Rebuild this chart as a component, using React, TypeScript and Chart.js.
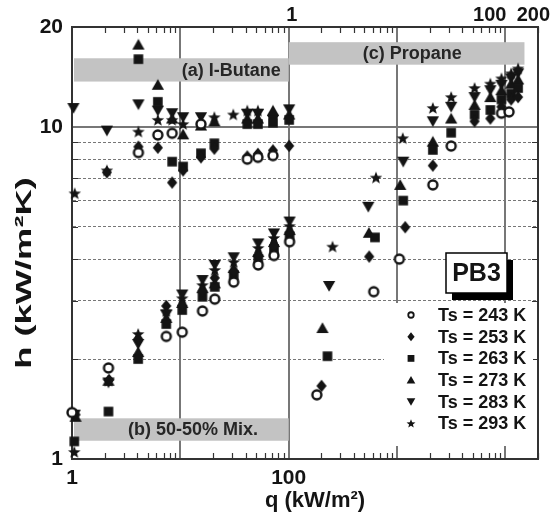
import React, { useEffect, useRef } from 'react';
import { Chart, registerables } from 'chart.js';

Chart.register(...registerables);

const FONT = "'Liberation Sans', Arial, Helvetica, sans-serif";
const INK = '#141414';

type Pt = [number, number];

// ---- series definitions ----
const seriesLabels = ['Ts = 243 K', 'Ts = 253 K', 'Ts = 263 K', 'Ts = 273 K', 'Ts = 283 K', 'Ts = 293 K'];
const seriesShapes = ['circle', 'diamond', 'square', 'triangle', 'triangleDown', 'star'];

// ---- (a) I-Butane : q (kW/m2) on bottom axis, h (kW/m2K) ----
const butane243: Pt[] = [[4.1, 8.37], [6.2, 9.46], [8.4, 9.57], [15.5, 10.2], [41.5, 8.0], [52, 8.1], [71.6, 8.2]];
const butane253: Pt[] = [[2.1, 7.3], [4.1, 8.72], [6.2, 8.66], [8.4, 6.8], [10.6, 7.4], [15.5, 8.1], [20.6, 8.6], [41.5, 8.15], [52, 8.3], [71.6, 8.5], [101, 8.77]];
const butane263: Pt[] = [[4.1, 16.0], [6.2, 11.9], [8.4, 7.86], [10.6, 7.6], [15.5, 8.33], [20.6, 8.93], [41.5, 10.2], [52, 10.2], [71.6, 10.3], [101, 10.5]];
const butane273: Pt[] = [[4.1, 17.7], [6.2, 13.4], [8.4, 10.6], [10.6, 9.5], [15.5, 10.1], [20.6, 10.4], [41.5, 10.6], [52, 10.6], [71.6, 11.2], [101, 10.9]];
const butane283: Pt[] = [[1.03, 11.4], [2.1, 9.75], [4.1, 11.7], [6.2, 11.2], [8.4, 11.0], [10.6, 10.7], [15.5, 10.7], [41.5, 10.95], [52, 10.95], [71.6, 10.5], [101, 11.3]];
const butane293: Pt[] = [[1.06, 6.31], [2.1, 7.4], [4.1, 9.68], [6.2, 10.5], [8.4, 10.5], [10.6, 10.2], [20.6, 10.7], [30.8, 10.9], [41.5, 11.2], [52, 11.2]];

// ---- (b) 50-50% Mix : q on bottom axis ----
const mix243: Pt[] = [[1.0, 1.38], [2.17, 1.88], [7.42, 2.34], [10.4, 2.41], [16, 2.79], [20.8, 3.03], [31.1, 3.41], [52.3, 3.84], [73.1, 4.1], [102, 4.51]];
const mix253: Pt[] = [[1.08, 1.36], [2.2, 1.73], [4.08, 2.3], [7.42, 2.89], [10.4, 2.9], [16, 3.2], [20.8, 3.51], [31.1, 3.66], [52.3, 4.08], [73.1, 4.38], [102, 4.79]];
const mix263: Pt[] = [[1.05, 1.13], [2.17, 1.39], [4.08, 2.0], [7.42, 2.55], [10.4, 2.81], [16, 3.08], [20.8, 3.3], [31.1, 3.58], [52.3, 4.0], [73.1, 4.29], [102, 4.69]];
const mix273: Pt[] = [[1.08, 1.34], [2.17, 1.72], [4.08, 2.1], [7.42, 2.66], [10.4, 2.95], [16, 3.27], [20.8, 3.38], [31.1, 3.76], [52.3, 4.2], [73.1, 4.5], [102, 4.89]];
const mix283: Pt[] = [[1.06, 1.36], [2.17, 1.7], [4.08, 2.22], [7.42, 2.72], [10.4, 3.13], [16, 3.46], [20.8, 3.84], [31.1, 4.05], [52.3, 4.46], [73.1, 4.78], [102, 5.19]];
const mix293: Pt[] = [[1.05, 1.05], [2.17, 1.72], [4.08, 2.38], [7.42, 2.79], [10.4, 3.05], [16, 3.34], [20.8, 3.71], [31.1, 3.92], [52.3, 4.32], [73.1, 4.63], [102, 5.03]];

// ---- (c) Propane : q on top axis ----
const propane243: Pt[] = [[1.82, 1.56], [6.09, 3.19], [10.5, 4.0], [21.4, 6.69], [31.6, 8.76], [92, 11.0], [108, 11.1]];
const propane253: Pt[] = [[2.01, 1.66], [5.54, 4.07], [11.9, 4.99], [21.4, 7.65], [52, 10.4], [72.6, 10.6], [92, 11.5], [113, 12.1], [131, 12.3]];
const propane263: Pt[] = [[2.28, 2.04], [6.26, 4.65], [11.4, 6.0], [21.4, 8.53], [31.6, 9.61], [52, 10.9], [72.6, 11.25], [92, 12.1], [113, 12.6], [131, 13.1]];
const propane273: Pt[] = [[2.05, 2.48], [5.5, 4.8], [10.7, 6.69], [21.4, 9.03], [31.6, 10.6], [52, 11.65], [72.6, 12.3], [92, 12.9], [113, 13.5], [131, 13.9]];
const propane283: Pt[] = [[2.36, 3.32], [5.43, 5.75], [11.4, 7.86], [21.4, 10.4], [31.6, 11.5], [52, 12.3], [72.6, 12.9], [92, 13.4], [113, 14.0], [131, 14.5]];
const propane293: Pt[] = [[2.54, 4.36], [6.39, 7.04], [11.3, 9.25], [21.4, 11.4], [31.6, 12.3], [52, 13.1], [72.6, 13.5], [92, 14.0], [113, 14.5], [131, 15.0]];

const butaneSeries = [butane243, butane253, butane263, butane273, butane283, butane293];
const mixSeries = [mix243, mix253, mix263, mix273, mix283, mix293];
const propaneSeries = [propane243, propane253, propane263, propane273, propane283, propane293];

// ---- axes ----
const bottomTicks = [1, 10, 100, 1000, 10000];
const bottomLabels = [1, 100];
const topLabels = ['1', '100', '200'];
const topLabelValues = [1, 100, 200];
const yTicks = [1, 2, 3, 4, 5, 6, 7, 8, 9, 10, 20];
const yLabels = [1, 10, 20];

// ---- grey label bands ----
const bandLabels = ['(a) I-Butane', '(c) Propane', '(b) 50-50% Mix.'];
const bandAxes = ['x', 'x2', 'x'];
const bandQ: Pt[] = [[1, 100], [1, 150], [1, 100]];
const bandH: Pt[] = [[13.7, 16.1], [15.4, 18.0], [1.135, 1.326]];
const bandTextQ = [29.5, 13.8, 13.1];

const near = (a: number, b: number) => Math.abs(a - b) < 1e-6 * Math.max(1, Math.abs(b));

function drawMarker(ctx: CanvasRenderingContext2D, shape: string, x: number, y: number, s: number) {
  const r = s / 2;
  ctx.save();
  ctx.fillStyle = INK;
  ctx.strokeStyle = INK;
  ctx.beginPath();
  switch (shape) {
    case 'circle':
      ctx.arc(x, y, r - 1.5, 0, Math.PI * 2);
      ctx.fillStyle = '#fff';
      ctx.fill();
      ctx.lineWidth = Math.max(1.8, s * 0.2);
      ctx.stroke();
      break;
    case 'diamond':
      ctx.moveTo(x, y - r * 1.05);
      ctx.lineTo(x + r * 0.85, y);
      ctx.lineTo(x, y + r * 1.05);
      ctx.lineTo(x - r * 0.85, y);
      ctx.closePath();
      ctx.fill();
      break;
    case 'square':
      ctx.rect(x - r * 0.8, y - r * 0.8, r * 1.6, r * 1.6);
      ctx.fill();
      break;
    case 'triangle':
      ctx.moveTo(x, y - r * 0.95);
      ctx.lineTo(x + r * 1.02, y + r * 0.82);
      ctx.lineTo(x - r * 1.02, y + r * 0.82);
      ctx.closePath();
      ctx.fill();
      break;
    case 'triangleDown':
      ctx.moveTo(x, y + r * 0.95);
      ctx.lineTo(x + r * 1.02, y - r * 0.82);
      ctx.lineTo(x - r * 1.02, y - r * 0.82);
      ctx.closePath();
      ctx.fill();
      break;
    case 'star': {
      const ro = r * 1.1;
      const ri = r * 0.47;
      for (let i = 0; i < 10; i++) {
        const a = -Math.PI / 2 + (i * Math.PI) / 5;
        const rr = i % 2 === 0 ? ro : ri;
        const px = x + Math.cos(a) * rr;
        const py = y + Math.sin(a) * rr + r * 0.08;
        if (i === 0) ctx.moveTo(px, py);
        else ctx.lineTo(px, py);
      }
      ctx.closePath();
      ctx.fill();
      break;
    }
  }
  ctx.restore();
}

function markerCanvas(shape: string, s: number): HTMLCanvasElement {
  const c = document.createElement('canvas');
  c.width = 16;
  c.height = 16;
  const g = c.getContext('2d')!;
  drawMarker(g, shape, 8, 8, s);
  return c;
}

const overlayPlugin = {
  id: 'overlay',
  beforeDatasetsDraw(chart: any) {
    const { ctx, chartArea: ca, scales } = chart;
    ctx.save();
    // grey bands with labels
    bandLabels.forEach((label, i) => {
      const xs = scales[bandAxes[i]];
      const ys = scales.y;
      const x0 = Math.max(xs.getPixelForValue(bandQ[i][0]), ca.left + 2);
      const x1 = xs.getPixelForValue(bandQ[i][1]);
      const yTop = ys.getPixelForValue(bandH[i][1]);
      const yBot = ys.getPixelForValue(bandH[i][0]);
      ctx.fillStyle = '#c3c3c3';
      ctx.fillRect(x0, yTop, x1 - x0, yBot - yTop);
      ctx.font = `bold 18px ${FONT}`;
      ctx.fillStyle = '#262626';
      ctx.textAlign = 'center';
      ctx.textBaseline = 'middle';
      ctx.fillText(label, xs.getPixelForValue(bandTextQ[i]), (yTop + yBot) / 2 + 1);
    });

    // inward minor ticks
    ctx.strokeStyle = '#333';
    ctx.lineWidth = 1.2;
    const L = 6;
    const xb = scales.x;
    const xt = scales.x2;
    const yl = scales.y;
    ctx.beginPath();
    for (let e = 0; e <= 4; e++) {
      for (let m = 2; m <= 9; m++) {
        const v = m * Math.pow(10, e);
        if (v > xb.max) continue;
        const px = Math.round(xb.getPixelForValue(v)) + 0.5;
        ctx.moveTo(px, ca.bottom);
        ctx.lineTo(px, ca.bottom - L);
      }
    }
    for (let e = -2; e <= 2; e++) {
      for (let m = 2; m <= 9; m++) {
        const v = m * Math.pow(10, e);
        if (v > xt.max) continue;
        const px = Math.round(xt.getPixelForValue(v)) + 0.5;
        ctx.moveTo(px, ca.top);
        ctx.lineTo(px, ca.top + L);
      }
    }
    for (let m = 2; m <= 9; m++) {
      const py = Math.round(yl.getPixelForValue(m)) + 0.5;
      ctx.moveTo(ca.left, py);
      ctx.lineTo(ca.left + L, py);
      ctx.moveTo(ca.right, py);
      ctx.lineTo(ca.right - L, py);
    }
    ctx.stroke();

    // legend background
    ctx.fillStyle = '#fff';
    ctx.fillRect(ca.right - 154, ca.bottom - 156, 149, 143);
    ctx.restore();
  },
  afterDraw(chart: any) {
    const { ctx, chartArea: ca, scales } = chart;
    ctx.save();
    // PB3 box with shadow
    const bx = ca.right - 92;
    const by = ca.bottom - 206;
    const bw = 61;
    const bh = 40;
    ctx.fillStyle = '#000';
    ctx.fillRect(bx + 6, by + 7, bw, bh);
    ctx.fillStyle = '#fff';
    ctx.fillRect(bx, by, bw, bh);
    ctx.strokeStyle = '#000';
    ctx.lineWidth = 1.5;
    ctx.strokeRect(bx, by, bw, bh);
    ctx.fillStyle = INK;
    ctx.font = `bold 25px ${FONT}`;
    ctx.textAlign = 'center';
    ctx.textBaseline = 'middle';
    ctx.fillText('PB3', bx + bw / 2, by + bh / 2 + 1);

    // legend
    ctx.font = `bold 18px ${FONT}`;
    ctx.textAlign = 'left';
    ctx.textBaseline = 'middle';
    seriesLabels.forEach((lab, i) => {
      const yy = ca.bottom - 144 + i * 21.7;
      drawMarker(ctx, seriesShapes[i], ca.right - 127, yy, 8.5);
      ctx.fillStyle = INK;
      ctx.fillText(lab, ca.right - 100, yy + 1);
    });

    // top axis labels
    const xt = scales.x2;
    ctx.font = `bold 20px ${FONT}`;
    ctx.textBaseline = 'middle';
    ctx.fillStyle = INK;
    topLabelValues.forEach((v, i) => {
      const px = xt.getPixelForValue(v);
      if (i === 0) {
        ctx.textAlign = 'center';
        ctx.fillText(topLabels[i], px + 3, 15);
      } else if (i === 1) {
        ctx.textAlign = 'right';
        ctx.fillText(topLabels[i], px + 1, 15);
      } else {
        ctx.textAlign = 'right';
        ctx.fillText(topLabels[i], Math.min(px + 12, chart.width), 15);
      }
    });

    // axis titles
    ctx.font = `bold 22px ${FONT}`;
    ctx.textAlign = 'center';
    ctx.textBaseline = 'middle';
    ctx.fillText('q (kW/m²)', (ca.left + ca.right) / 2 + 10, 501);
    ctx.translate(25, (ca.top + ca.bottom) / 2 + 30);
    ctx.rotate(-Math.PI / 2);
    ctx.scale(1.65, 1);
    ctx.fillText('h (kW/m²K)', 0, 0);
    ctx.restore();
  },
};

export default function App() {
  const ref = useRef<HTMLCanvasElement | null>(null);

  useEffect(() => {
    if (!ref.current) return;
    const styles = seriesShapes.map((s) => markerCanvas(s, 12));
    const datasets: any[] = [];
    const groups: [Pt[][], string, string][] = [
      [butaneSeries, 'x', 'I-Butane'],
      [mixSeries, 'x', '50-50% Mix'],
      [propaneSeries, 'x2', 'Propane'],
    ];
    groups.forEach(([series, axis, name]) => {
      series.forEach((pts, i) => {
        datasets.push({
          label: `${name} ${seriesLabels[i]}`,
          data: pts.map(([q, h]) => ({ x: q, y: h })),
          xAxisID: axis,
          yAxisID: 'y',
          pointStyle: styles[i],
          pointRadius: 6,
          showLine: false,
          clip: false,
        });
      });
    });

    const tickFont = { family: FONT, size: 21, weight: 'bold' as const };

    const chart = new Chart(ref.current, {
      type: 'scatter',
      data: { datasets },
      plugins: [overlayPlugin],
      options: {
        animation: false,
        responsive: false,
        devicePixelRatio: 1,
        events: [],
        layout: { autoPadding: false, padding: 0 },
        plugins: { legend: { display: false }, tooltip: { enabled: false } },
        scales: {
          x: {
            type: 'logarithmic',
            position: 'bottom',
            min: 1,
            max: 20000,
            afterBuildTicks: (s: any) => {
              s.ticks = bottomTicks.map((v) => ({ value: v }));
            },
            afterFit: (s: any) => {
              s.height = 65;
            },
            grid: {
              color: (c: any) => (c.tick && !near(c.tick.value, 1) ? '#777' : 'transparent'),
              lineWidth: 2,
              drawTicks: false,
            },
            border: { display: true, color: '#333', width: 2 },
            ticks: {
              autoSkip: false,
              maxRotation: 0,
              padding: 7,
              color: INK,
              font: tickFont,
              callback: (v: any) => (bottomLabels.some((b) => near(Number(v), b)) ? String(v) : ''),
            },
          },
          x2: {
            type: 'logarithmic',
            position: 'top',
            min: 0.01,
            max: 200,
            afterFit: (s: any) => {
              s.height = 27;
            },
            grid: { drawOnChartArea: false, drawTicks: false },
            border: { display: true, color: '#333', width: 2 },
            ticks: { display: false },
          },
          y: {
            type: 'logarithmic',
            position: 'left',
            min: 1,
            max: 20,
            afterBuildTicks: (s: any) => {
              s.ticks = yTicks.map((v) => ({ value: v }));
            },
            afterFit: (s: any) => {
              s.width = 72;
            },
            grid: {
              color: (c: any) => {
                const v = c.tick ? c.tick.value : null;
                if (v == null) return 'transparent';
                if (near(v, 10)) return '#777';
                if (v >= 2 && v <= 9.001) return '#777';
                return 'transparent';
              },
              lineWidth: (c: any) => (c.tick && near(c.tick.value, 10) ? 2 : 1),
              drawTicks: false,
            },
            border: {
              display: true,
              color: '#333',
              width: 2,
              dash: (c: any) => {
                const v = c.tick ? c.tick.value : null;
                return v != null && v >= 1.5 && v <= 9.5 ? [3, 2] : [];
              },
            },
            ticks: {
              autoSkip: false,
              padding: 9,
              color: INK,
              font: tickFont,
              callback: (v: any) => (yLabels.some((b) => near(Number(v), b)) ? String(v) : ''),
            },
          },
          y2: {
            type: 'logarithmic',
            position: 'right',
            min: 1,
            max: 20,
            afterFit: (s: any) => {
              s.width = 12;
            },
            grid: { drawOnChartArea: false, drawTicks: false },
            border: { display: true, color: '#333', width: 2 },
            ticks: { display: false },
          },
        },
      } as any,
    });
    return () => chart.destroy();
  }, []);

  return (
    <div style={{ position: 'absolute', left: 0, top: 0, width: 550, height: 524, background: '#fff' }}>
      <canvas ref={ref} width={550} height={524} style={{ display: 'block', width: 550, height: 524 }} />
    </div>
  );
}
